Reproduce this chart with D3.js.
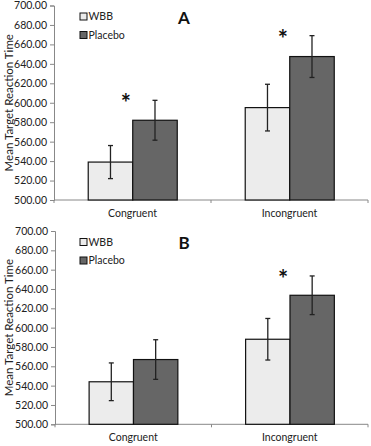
<!DOCTYPE html>
<html>
<head>
<meta charset="utf-8">
<script src="https://cdn.jsdelivr.net/npm/d3@7"></script>
<style>
  body { margin: 0; background: #fff; }
  svg { display: block; font-family: Lato, 'Open Sans', sans-serif; }
</style>
</head>
<body>
<svg width="371" height="446"></svg>
<script>
(function (d3) {
  'use strict';

  // values
  const categories = ['Congruent', 'Incongruent'];
  const seriesNames = ['WBB', 'Placebo'];
  const yTicks = [500, 520, 540, 560, 580, 600, 620, 640, 660, 680, 700];

  const wbbA = [539, 595];
  const placeboA = [582, 647.5];
  const wbbErrA = [17, 24];
  const placeboErrA = [20.5, 21.5];
  const sigA = [true, true];

  const wbbB = [544, 588];
  const placeboB = [567, 633.5];
  const wbbErrB = [19.5, 21.5];
  const placeboErrB = [20.5, 20];
  const sigB = [false, true];

  const colors = { WBB: '#ececec', Placebo: '#666666' };

  const svg = d3.select('svg');

  function drawPanel(opts) {
    const g = svg.append('g');
    const x0 = d3.scaleBand().domain(categories).range([opts.left, 368]).padding(0);
    const bw = x0.bandwidth();
    const x1 = d3.scaleBand().domain(seriesNames).range([bw * 0.218, bw * 0.785]).padding(0);
    const y = d3.scaleLinear().domain([500, 700]).range([opts.bottom, opts.top]);

    // y axis
    const yAxis = g.append('g')
      .attr('transform', `translate(${opts.left},0)`)
      .call(d3.axisLeft(y).tickValues(yTicks).tickFormat(d3.format('.2f')).tickSize(4).tickPadding(3));
    yAxis.select('.domain').attr('stroke', '#888');
    yAxis.selectAll('.tick line').attr('stroke', '#888');
    yAxis.selectAll('.tick text')
      .attr('font-size', 10.5)
      .attr('fill', '#222')
      .attr('font-family', 'Lato, sans-serif');

    // x axis baseline with boundary ticks
    const xAxis = g.append('g').attr('transform', `translate(0,${opts.bottom})`);
    xAxis.append('line')
      .attr('x1', opts.left).attr('x2', 368)
      .attr('stroke', '#888');
    const bounds = [x0(categories[0]), x0(categories[1]), x0(categories[1]) + bw];
    xAxis.selectAll('line.b')
      .data(bounds)
      .enter().append('line')
      .attr('class', 'b')
      .attr('x1', d => d).attr('x2', d => d)
      .attr('y1', 0).attr('y2', 3)
      .attr('stroke', '#888');
    xAxis.selectAll('text')
      .data(categories)
      .enter().append('text')
      .attr('x', d => x0(d) + bw / 2)
      .attr('y', 16.5)
      .attr('text-anchor', 'middle')
      .attr('font-size', 10.5)
      .attr('fill', '#222')
      .text(d => d);

    // axis title
    g.append('text')
      .attr('transform', `translate(12.5,${(opts.top + opts.bottom) / 2}) rotate(-90)`)
      .attr('text-anchor', 'middle')
      .attr('font-size', 11.5)
      .attr('fill', '#222')
      .text('Mean Target Reaction Time');

    const rows = categories.map((c, i) => ({
      cat: c,
      vals: [
        { s: 'WBB', v: opts.wbb[i], e: opts.wbbErr[i] },
        { s: 'Placebo', v: opts.placebo[i], e: opts.placeboErr[i] }
      ],
      sig: opts.sig[i]
    }));

    const groups = g.selectAll('g.cat')
      .data(rows)
      .enter().append('g')
      .attr('class', 'cat')
      .attr('transform', d => `translate(${x0(d.cat)},0)`);

    groups.selectAll('rect')
      .data(d => d.vals)
      .enter().append('rect')
      .attr('x', d => x1(d.s))
      .attr('y', d => y(d.v))
      .attr('width', x1.bandwidth())
      .attr('height', d => y(500) - y(d.v))
      .attr('fill', d => colors[d.s])
      .attr('stroke', '#111')
      .attr('stroke-width', 1.2);

    const eb = groups.selectAll('g.err')
      .data(d => d.vals)
      .enter().append('g')
      .attr('class', 'err')
      .attr('stroke', '#222')
      .attr('stroke-width', 1.3);
    eb.append('line')
      .attr('x1', d => x1(d.s) + x1.bandwidth() / 2)
      .attr('x2', d => x1(d.s) + x1.bandwidth() / 2)
      .attr('y1', d => y(d.v + d.e))
      .attr('y2', d => y(d.v - d.e));
    [1, -1].forEach(sign => {
      eb.append('line')
        .attr('x1', d => x1(d.s) + x1.bandwidth() / 2 - 2.5)
        .attr('x2', d => x1(d.s) + x1.bandwidth() / 2 + 2.5)
        .attr('y1', d => y(d.v + sign * d.e))
        .attr('y2', d => y(d.v + sign * d.e));
    });

    groups.filter(d => d.sig)
      .append('text')
      .attr('x', x1('Placebo') - 7)
      .attr('y', d => y(d.vals[1].v + d.vals[1].e) + 12)
      .attr('text-anchor', 'middle')
      .attr('font-size', 24)
      .attr('font-weight', 'bold')
      .attr('fill', '#111')
      .text('*');

    // legend
    const leg = g.append('g');
    seriesNames.forEach((s, i) => {
      const ly = y(700) + 11 + i * 18.5;
      leg.append('rect')
        .attr('x', 80).attr('y', ly - 3.5)
        .attr('width', 7).attr('height', 7)
        .attr('fill', colors[s])
        .attr('stroke', '#111')
        .attr('stroke-width', 1);
      leg.append('text')
        .attr('x', 88.5).attr('y', ly + 3.8)
        .attr('font-size', 10.5)
        .attr('fill', '#222')
        .text(s);
    });

    // panel letter
    g.append('text')
      .attr('x', 184).attr('y', opts.top + 18)
      .attr('text-anchor', 'middle')
      .attr('font-size', 17)
      .attr('font-weight', 'bold')
      .attr('fill', '#111')
      .text(opts.letter);
  }

  drawPanel({ letter: 'A', left: 54, top: 5.5, bottom: 200,
    wbb: wbbA, placebo: placeboA, wbbErr: wbbErrA, placeboErr: placeboErrA, sig: sigA });
  drawPanel({ letter: 'B', left: 55, top: 231, bottom: 424.3,
    wbb: wbbB, placebo: placeboB, wbbErr: wbbErrB, placeboErr: placeboErrB, sig: sigB });

}(d3));
</script>
</body>
</html>
